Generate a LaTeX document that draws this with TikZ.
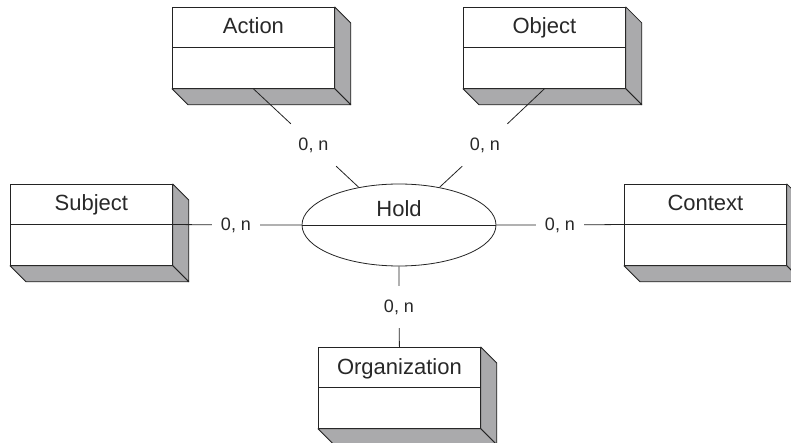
\documentclass[tikz,border=0pt]{standalone}
\usepackage{fontspec}
\setmainfont{Liberation Sans}
\usetikzlibrary{shapes.geometric}
\definecolor{ink}{RGB}{35,35,35}
\definecolor{txt}{RGB}{40,40,40}
\definecolor{shade}{RGB}{170,170,172}
\tikzset{
  erbox/.style={draw=ink, fill=white, line width=0.8pt, rectangle, inner sep=0pt,
    minimum width=162pt, minimum height=81pt, anchor=north west},
  ertitle/.style={text=txt, font=\fontsize{22}{25}\selectfont, inner sep=0pt, anchor=base},
  ershadow/.style={draw=ink, fill=shade, line width=0.8pt, line join=round},
  card/.style={text=txt, font=\fontsize{18}{20}\selectfont, rectangle, inner sep=0pt,
    minimum width=48pt, minimum height=42pt},
  link/.style={draw=ink, line width=0.8pt},
  relation/.style={draw=ink, line width=0.8pt, ellipse, inner sep=0pt,
    minimum width=194pt, minimum height=82pt}
}
\newcommand\erentity[3]{%
  \node[erbox] (#1) at (#2) {};
  \fill[ershadow] (#1.north east) -- ++(16,16) -- ([shift={(16,16)}]#1.south east) -- (#1.south east) -- cycle;
  \fill[ershadow] (#1.south west) -- ++(16,16) -- ([shift={(16,16)}]#1.south east) -- (#1.south east) -- cycle;
  \draw[ink, line width=0.8pt] ([yshift=-40.5pt]#1.north west) -- ([yshift=-40.5pt]#1.north east);
  \node[ertitle] (#1T) at ([yshift=-27pt]#1.north) {#3};
}
\begin{document}
\begin{tikzpicture}[x=1pt,y=-1pt]
\useasboundingbox (0,0) rectangle (791,443);
\erentity{act}{172,7}{Action}
\erentity{obj}{463,7}{Object}
\erentity{sub}{10,184}{Subject}
\erentity{ctx}{624,184}{Context}
\erentity{org}{318,347}{Organization}

\node[relation] (hold) at (399,225) {};
\draw[ink, line width=0.8pt] (hold.west) -- (hold.east);
\node[ertitle] (holdT) at (399,217) {Hold};

\node[card] (c1) at (313.5,145) {0, n};
\node[card] (c2) at (485,145) {0, n};
\node[card] (c3) at (236,225) {0, n};
\node[card] (c4) at (560,225) {0, n};
\node[card] (c5) at (399,307) {0, n};

\draw[link] (act.south) -- (c1) -- (hold);
\draw[link] (obj.south) -- (c2) -- (hold);
\draw[link] ([yshift=-40.5pt]sub.north east) -- (c3) -- (hold.west);
\draw[link] (hold.east) -- (c4) -- ([yshift=-40.5pt]ctx.north west);
\draw[link] (hold.south) -- (c5) -- (org.north);
\end{tikzpicture}
\end{document}
